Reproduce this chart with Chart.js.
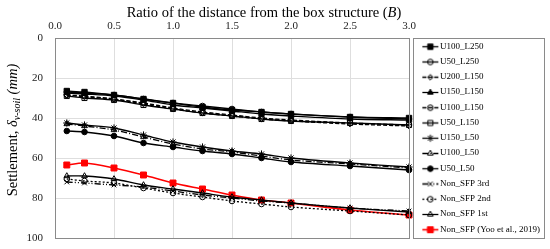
<!DOCTYPE html>
<html>
<head>
<meta charset="utf-8">
<script src="https://cdn.jsdelivr.net/npm/chart.js@4"></script>
<style>
  html, body { margin: 0; padding: 0; background: #fff; }
  #wrap { width: 550px; height: 249px; }
</style>
</head>
<body>
<div id="wrap"><canvas id="grafico" width="550" height="249"></canvas></div>
<script>
// distancia (B) e recalques (mm)
const xVals = [0.1, 0.25, 0.5, 0.75, 1.0, 1.25, 1.5, 1.75, 2.0, 2.5, 3.0];

const U100_L250 = [26.5, 27, 28.5, 30.5, 32.5, 34.5, 36, 37, 38, 39.5, 40];
const U50_L250  = [27, 27.5, 28.5, 30.5, 32.5, 34, 35.5, 37, 38, 39.5, 40.5];
const U200_L150 = [28.5, 29.5, 30.5, 33, 35.5, 37.5, 39, 40.5, 41.5, 43, 44];
const U150_L150 = [27.5, 28, 29, 31, 33.5, 35, 36.5, 38, 39, 40.5, 41];
const U100_L150 = [28.5, 29, 30.5, 32.5, 35, 37, 38.5, 40, 41, 42.5, 43.5];
const U50_L150  = [29, 30, 31, 33.5, 35.5, 37.5, 39, 40.5, 41.5, 42.5, 43.5];
const U150_L50  = [42.5, 43.5, 45, 48.5, 52, 54.5, 56.5, 58, 60, 62.5, 64.5];
const U100_L50  = [43, 44, 46, 49.5, 53, 55.5, 57, 59, 61, 63, 65];
const U50_L50   = [46.5, 47, 49, 52.5, 54.5, 56.5, 58, 60, 62, 64, 66];
const nonSFP3   = [72, 72.5, 73.5, 74.5, 76.5, 78.5, 80, 81.5, 82.5, 85, 86.5];
const nonSFP2   = [70.5, 71.5, 72.5, 75, 77.5, 79.5, 81.5, 83, 84.5, 86.5, 88.5];
const nonSFP1   = [69, 69, 70.5, 73.5, 75.5, 77.5, 79.5, 81, 82.5, 85, 87];
const yoo2019   = [63.5, 62.5, 65, 68.5, 72.5, 75.5, 78.5, 81, 82.5, 86, 88.5];

const seriesNames = ['U100_L250', 'U50_L250', 'U200_L150', 'U150_L150', 'U100_L150', 'U50_L150',
  'U150_L50', 'U100_L50', 'U50_L50', 'Non_SFP 3rd', 'Non_SFP 2nd', 'Non_SFP 1st', 'Non_SFP (Yoo et al., 2019)'];
const seriesValues = [U100_L250, U50_L250, U200_L150, U150_L150, U100_L150, U50_L150,
  U150_L50, U100_L50, U50_L50, nonSFP3, nonSFP2, nonSFP1, yoo2019];

const xTicks = [0, 0.5, 1.0, 1.5, 2.0, 2.5, 3.0];
const yTicks = [0, 20, 40, 60, 80, 100];

const SERIF = "'Liberation Serif', 'Times New Roman', serif";
const NONE = 'rgba(0,0,0,0)';

// estilo de cada serie: [cor, tracejado, marcador, raio, preenchido]
const estilos = [
  ['#000', [], 'rect', 3.8, true],
  ['#000', [], 'circle', 2.8, false],
  ['#000', [4, 2], 'rectRot', 2.8, false],
  ['#000', [], 'triangle', 3.3, true],
  ['#000', [4, 2], 'circle', 2.8, false],
  ['#000', [], 'rect', 3.6, false],
  ['#000', [], 'star', 3.6, false],
  ['#000', [6, 2, 1, 2], 'triangle', 3.3, false],
  ['#000', [], 'circle', 2.8, true],
  ['#000', [6, 2, 1, 2, 1, 2], 'crossRot', 3.3, false],
  ['#000', [2, 2], 'circle', 2.8, false],
  ['#000', [], 'triangle', 3.3, false],
  ['#ff0000', [], 'rect', 4.2, true]
];

// amostra da legenda: linha + marcador
function amostra(st) {
  const c = document.createElement('canvas');
  c.width = 40; c.height = 10;
  const g = c.getContext('2d');
  g.strokeStyle = st[0];
  g.lineWidth = st[0] === '#000' ? 1.3 : 1.6;
  g.setLineDash(st[1]);
  g.beginPath(); g.moveTo(17, 5.5); g.lineTo(33, 5.5); g.stroke();
  g.setLineDash([]);
  g.fillStyle = st[4] ? st[0] : NONE;
  g.lineWidth = 1;
  Chart.helpers.drawPoint(g, { pointStyle: st[2], radius: st[3], rotation: 0, borderWidth: 1 }, 25, 5.5);
  return c;
}

const datasets = seriesNames.map((nome, i) => {
  const st = estilos[i];
  return {
    label: nome,
    data: xVals.map((x, k) => ({ x: x, y: seriesValues[i][k] })),
    borderColor: st[0],
    borderWidth: st[0] === '#000' ? 1.3 : 1.6,
    borderDash: st[1],
    pointStyle: st[2],
    pointRadius: st[3],
    pointBorderWidth: 1,
    pointBorderColor: st[0],
    pointBackgroundColor: st[4] ? st[0] : NONE,
    tension: 0.3,
    clip: 8,
    legendSwatch: amostra(st)
  };
});

// titulos dos eixos com italico e subscrito, e molduras
const extras = {
  id: 'extras',
  beforeLayout(chart) {
    const lg = chart.legend;
    if (lg && !lg._fixo) {
      const fit = lg.fit.bind(lg);
      lg.fit = function () { fit(); this.width = 141; };
      lg._fixo = true;
    }
  },
  afterLayout(chart) {
    // desce um pouco os itens da legenda
    chart.legend.top += 2;
    chart.legend.bottom += 2;
  },
  afterDraw(chart) {
    const ctx = chart.ctx;
    const a = chart.chartArea;
    ctx.save();
    ctx.strokeStyle = '#8a8a8a';
    ctx.lineWidth = 1;
    ctx.strokeRect(Math.round(a.left) + 0.5, Math.round(a.top) + 0.5,
      Math.round(a.right - a.left), Math.round(a.bottom - a.top));
    ctx.strokeRect(413.5, Math.round(a.top) + 0.5, 131, Math.round(a.bottom - a.top));

    ctx.fillStyle = '#000';
    ctx.textBaseline = 'middle';
    // titulo do eixo x
    const px = [['Ratio of the distance from the box structure (', 'normal'], ['B', 'italic'], [')', 'normal']];
    let tot = 0;
    px.forEach(p => { ctx.font = p[1] + ' 14.5px ' + SERIF; tot += ctx.measureText(p[0]).width; });
    let cx = 264 - tot / 2;
    px.forEach(p => { ctx.font = p[1] + ' 14.5px ' + SERIF; ctx.fillText(p[0], cx, 13); cx += ctx.measureText(p[0]).width; });

    // titulo do eixo y
    ctx.translate(13, 130);
    ctx.rotate(-Math.PI / 2);
    const py = [['Settlement, ', 'normal 14.5px', 0], ['\u03B4', 'italic 14.5px', 0], ['v-soil', 'italic 10px', 4], [' (mm)', 'italic 14.5px', 0]];
    tot = 0;
    py.forEach(p => { ctx.font = p[1] + ' ' + SERIF; tot += ctx.measureText(p[0]).width; });
    cx = -tot / 2;
    py.forEach(p => { ctx.font = p[1] + ' ' + SERIF; ctx.fillText(p[0], cx, p[2]); cx += ctx.measureText(p[0]).width; });
    ctx.restore();
  }
};

const ctx = document.getElementById('grafico').getContext('2d');
const grafico = new Chart(ctx, {
  type: 'line',
  data: { datasets: datasets },
  plugins: [extras],
  options: {
    responsive: false,
    animation: false,
    layout: { padding: { top: 18, left: 25, right: 0, bottom: 11 } },
    plugins: {
      tooltip: { enabled: false },
      legend: {
        position: 'right',
        align: 'end',
        labels: {
          usePointStyle: true,
          pointStyleWidth: 20.25,
          padding: 6.25,
          color: '#000',
          font: { family: SERIF, size: 9 },
          generateLabels(chart) {
            return chart.data.datasets.map((ds, i) => ({
              text: ds.label,
              pointStyle: ds.legendSwatch,
              fillStyle: NONE,
              strokeStyle: NONE,
              lineWidth: 0,
              fontColor: '#000',
              hidden: false,
              datasetIndex: i
            }));
          }
        }
      }
    },
    scales: {
      x: {
        type: 'linear',
        position: 'top',
        min: 0,
        max: 3,
        afterFit(s) { s.height = 20; s.paddingLeft = 0; s.paddingRight = 0; },
        afterBuildTicks(s) { s.ticks = xTicks.map(v => ({ value: v })); },
        ticks: {
          color: '#222',
          padding: 5,
          font: { family: SERIF, size: 11 },
          callback: v => Number(v).toFixed(1)
        },
        grid: { color: '#dedede', drawTicks: false },
        border: { color: '#8a8a8a' }
      },
      y: {
        type: 'linear',
        reverse: true,
        min: 0,
        max: 100,
        afterFit(s) { s.width = 30; s.paddingTop = 0; s.paddingBottom = 0; },
        afterBuildTicks(s) { s.ticks = yTicks.map(v => ({ value: v })); },
        ticks: {
          color: '#222',
          padding: 12,
          font: { family: SERIF, size: 11 }
        },
        grid: { color: '#dedede', drawTicks: false },
        border: { color: '#8a8a8a' }
      }
    }
  }
});
</script>
</body>
</html>
